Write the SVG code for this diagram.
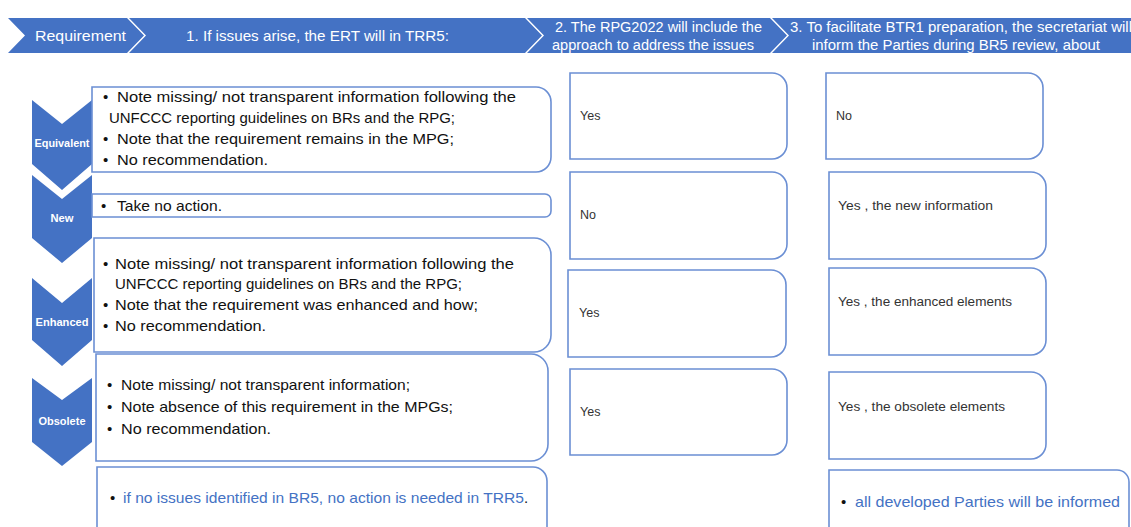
<svg xmlns="http://www.w3.org/2000/svg" width="1131" height="527" viewBox="0 0 1131 527">
<style>
.hdr{fill:#4472C4}
.hdrtxt{font-family:"Liberation Sans",Arial,sans-serif;font-size:15px;fill:#fff}
.hdrtxt2{font-family:"Liberation Sans",Arial,sans-serif;font-size:14px;fill:#fff}
.arr{fill:#4472C4}
.lbl{font-family:"Liberation Sans",Arial,sans-serif;font-size:10.5px;font-weight:bold;fill:#fff;text-anchor:middle}
.box{fill:#fff;stroke:#6B8FD4;stroke-width:1.6}
.t{font-family:"Liberation Sans",Arial,sans-serif;font-size:15px;fill:#111}
.s{font-family:"Liberation Sans",Arial,sans-serif;font-size:12.5px;fill:#333}
.blue{fill:#4472C4}
</style>
<rect width="1131" height="527" fill="#fff"/>
<g id="header">
  <g id="h-requirement">
    <polygon class="hdr" points="8,18 127,18 144,35.5 127,53 8,53 25,35.5"/>
    <text class="hdrtxt" x="35" y="41" textLength="91" lengthAdjust="spacingAndGlyphs">Requirement</text>
  </g>
  <g id="h-step1">
    <polygon class="hdr" points="129,18 525,18 542,35.5 525,53 129,53 146,35.5"/>
    <text class="hdrtxt" x="186" y="41" textLength="263" lengthAdjust="spacingAndGlyphs">1. If issues arise, the ERT will in TRR5:</text>
  </g>
  <g id="h-step2">
    <polygon class="hdr" points="527,18 770,18 787,35.5 770,53 527,53 544,35.5"/>
    <text class="hdrtxt2" x="555" y="32" textLength="207" lengthAdjust="spacingAndGlyphs">2. The RPG2022 will include the</text>
    <text class="hdrtxt2" x="552" y="50" textLength="202" lengthAdjust="spacingAndGlyphs">approach to address the issues</text>
  </g>
  <g id="h-step3">
    <polygon class="hdr" points="772,18 1131,18 1131,53 772,53 789,35.5"/>
    <text class="hdrtxt2" x="790" y="32" textLength="342" lengthAdjust="spacingAndGlyphs">3. To facilitate BTR1 preparation, the  secretariat will</text>
    <text class="hdrtxt2" x="812" y="50" textLength="288" lengthAdjust="spacingAndGlyphs">inform the Parties during BR5 review, about</text>
  </g>
</g>
<g id="connectors"/>
<g id="equivalent">
  <polygon class="arr" points="32,100 62,124 92,100 92,164 62,190 32,164"/>
  <text class="lbl" x="62" y="147" textLength="55" lengthAdjust="spacingAndGlyphs">Equivalent</text>
  <path class="box" d="M92,87 H536 A15,15 0 0 1 551,102 V157 A15,15 0 0 1 536,172 H92 Z"/>
  <text class="t" x="103" y="102">•</text>
  <text class="t" x="117" y="102" textLength="399" lengthAdjust="spacingAndGlyphs">Note missing/ not transparent information following the</text>
  <text class="t" x="109" y="123" textLength="346" lengthAdjust="spacingAndGlyphs">UNFCCC reporting guidelines on BRs and the RPG;</text>
  <text class="t" x="103" y="144">•</text>
  <text class="t" x="117" y="144" textLength="337" lengthAdjust="spacingAndGlyphs">Note that the requirement remains in the MPG;</text>
  <text class="t" x="103" y="165">•</text>
  <text class="t" x="117" y="165" textLength="151" lengthAdjust="spacingAndGlyphs">No recommendation.</text>
</g>
<g id="new">
  <polygon class="arr" points="32,175 62,199 92,175 92,238 62,263 32,238"/>
  <text class="lbl" x="62" y="222" textLength="23" lengthAdjust="spacingAndGlyphs">New</text>
  <path class="box" d="M92,194 H545 A6,6 0 0 1 551,200 V211 A6,6 0 0 1 545,217 H92 Z"/>
  <text class="t" x="101" y="211">•</text>
  <text class="t" x="117" y="211" textLength="105" lengthAdjust="spacingAndGlyphs">Take no action.</text>
</g>
<g id="enhanced">
  <polygon class="arr" points="32,278 62,303 92,278 92,340 62,366 32,340"/>
  <text class="lbl" x="62" y="326" textLength="53" lengthAdjust="spacingAndGlyphs">Enhanced</text>
  <path class="box" d="M94,238 H534 A17,17 0 0 1 551,255 V335 A17,17 0 0 1 534,352 H94 Z"/>
  <text class="t" x="103" y="269">•</text>
  <text class="t" x="115" y="269" textLength="399" lengthAdjust="spacingAndGlyphs">Note missing/ not transparent information following the</text>
  <text class="t" x="115" y="289" textLength="347" lengthAdjust="spacingAndGlyphs">UNFCCC reporting guidelines on BRs and the RPG;</text>
  <text class="t" x="103" y="310">•</text>
  <text class="t" x="115" y="310" textLength="363" lengthAdjust="spacingAndGlyphs">Note that the requirement was enhanced and how;</text>
  <text class="t" x="103" y="331">•</text>
  <text class="t" x="115" y="331" textLength="151" lengthAdjust="spacingAndGlyphs">No recommendation.</text>
</g>
<g id="obsolete">
  <polygon class="arr" points="32,378 62,400 92,378 92,442 62,466 32,442"/>
  <text class="lbl" x="62" y="425" textLength="47" lengthAdjust="spacingAndGlyphs">Obsolete</text>
  <path class="box" d="M96,354 H531 A17,17 0 0 1 548,371 V444 A17,17 0 0 1 531,461 H96 Z"/>
  <text class="t" x="107" y="390">•</text>
  <text class="t" x="121" y="390" textLength="289" lengthAdjust="spacingAndGlyphs">Note missing/ not transparent information;</text>
  <text class="t" x="107" y="412">•</text>
  <text class="t" x="121" y="412" textLength="332" lengthAdjust="spacingAndGlyphs">Note absence of this requirement in the MPGs;</text>
  <text class="t" x="107" y="434">•</text>
  <text class="t" x="121" y="434" textLength="150" lengthAdjust="spacingAndGlyphs">No recommendation.</text>
</g>
<g id="no-issues">
  <path class="box" d="M97,467 H533 A14,14 0 0 1 547,481 V540 H97 Z"/>
  <text class="t" x="110" y="503" font-size="14">•</text>
  <text class="t blue" x="123" y="503" font-size="14" textLength="401" lengthAdjust="spacingAndGlyphs">if no issues identified in BR5, no action is needed in TRR5</text>
  <text class="t" x="524" y="503" font-size="14">.</text>
</g>
<g id="rpg-equivalent">
  <path class="box" d="M570,73 H772 A15,15 0 0 1 787,88 V144 A15,15 0 0 1 772,159 H570 Z"/>
  <text class="s" x="580" y="120">Yes</text>
</g>
<g id="rpg-new">
  <path class="box" d="M570,172 H772 A15,15 0 0 1 787,187 V244 A15,15 0 0 1 772,259 H570 Z"/>
  <text class="s" x="580" y="219">No</text>
</g>
<g id="rpg-enhanced">
  <path class="box" d="M568,270 H771 A15,15 0 0 1 786,285 V342 A15,15 0 0 1 771,357 H568 Z"/>
  <text class="s" x="579" y="317">Yes</text>
</g>
<g id="rpg-obsolete">
  <path class="box" d="M570,369 H772 A15,15 0 0 1 787,384 V440 A15,15 0 0 1 772,455 H570 Z"/>
  <text class="s" x="580" y="416">Yes</text>
</g>
<g id="sec-equivalent">
  <path class="box" d="M826,73 H1028 A15,15 0 0 1 1043,88 V144 A15,15 0 0 1 1028,159 H826 Z"/>
  <text class="s" x="836" y="120">No</text>
</g>
<g id="sec-new">
  <path class="box" d="M829,172 H1031 A15,15 0 0 1 1046,187 V244 A15,15 0 0 1 1031,259 H829 Z"/>
  <text class="s" x="838" y="210" textLength="155" lengthAdjust="spacingAndGlyphs">Yes , the new information</text>
</g>
<g id="sec-enhanced">
  <path class="box" d="M829,268 H1031 A15,15 0 0 1 1046,283 V340 A15,15 0 0 1 1031,355 H829 Z"/>
  <text class="s" x="838" y="306" textLength="174" lengthAdjust="spacingAndGlyphs">Yes , the enhanced elements</text>
</g>
<g id="sec-obsolete">
  <path class="box" d="M829,372 H1031 A15,15 0 0 1 1046,387 V444 A15,15 0 0 1 1031,459 H829 Z"/>
  <text class="s" x="838" y="411" textLength="167" lengthAdjust="spacingAndGlyphs">Yes , the obsolete elements</text>
</g>
<g id="all-parties">
  <path class="box" d="M829,470 H1117 A12,12 0 0 1 1129,482 V540 H829 Z"/>
  <text class="t" x="841" y="507" font-size="14">•</text>
  <text class="t blue" x="855" y="507" textLength="265" lengthAdjust="spacingAndGlyphs">all developed Parties will be informed</text>
</g>
</svg>
